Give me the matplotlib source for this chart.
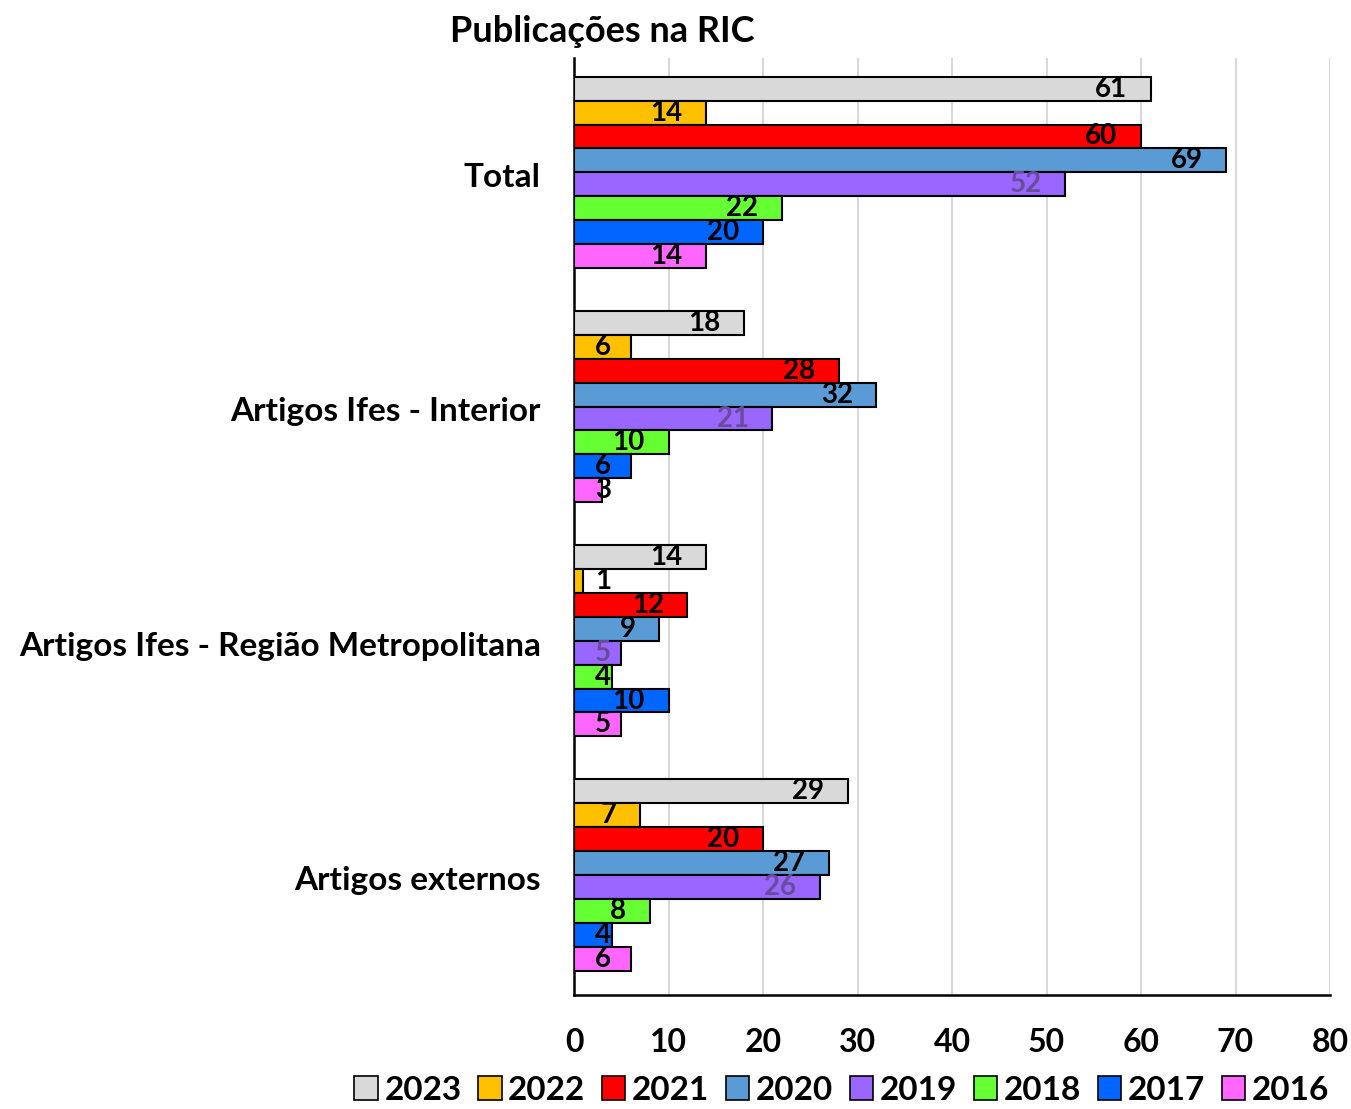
import numpy as np
import matplotlib
matplotlib.use("Agg")
import matplotlib.pyplot as plt
from matplotlib.patches import Patch

plt.rcParams['font.family'] = ['Lato', 'DejaVu Sans']
plt.rcParams['font.weight'] = 'bold'

categories = ['Total', 'Artigos Ifes - Interior', 'Artigos Ifes - Região Metropolitana', 'Artigos externos']
years = ['2023', '2022', '2021', '2020', '2019', '2018', '2017', '2016']
values = {
    '2023': [61, 18, 14, 29],
    '2022': [14, 6, 1, 7],
    '2021': [60, 28, 12, 20],
    '2020': [69, 32, 9, 27],
    '2019': [52, 21, 5, 26],
    '2018': [22, 10, 4, 8],
    '2017': [20, 6, 10, 4],
    '2016': [14, 3, 5, 6],
}
colors = ['#d9d9d9', '#ffc000', '#ff0000', '#5b9bd5', '#9966ff', '#66ff33', '#0066ff', '#ff66ff']
label_colors = ['black', 'black', 'black', 'black', '#6a4c9c', 'black', 'black', 'black']

fig = plt.figure(figsize=(13.51, 11.09), dpi=100)
ax = fig.add_axes([0.4249, 0.1028, 0.5596, 0.8449])

bar_h = 0.102
y = np.arange(len(categories))
for i, yr in enumerate(years):
    pos = y - 3.5 * bar_h + i * bar_h - 0.012
    ax.barh(pos, values[yr], height=bar_h, color=colors[i], edgecolor='black', linewidth=1.5, zorder=3)
    for p, v in zip(pos, values[yr]):
        ax.text(max(v - 2.5, 3.9), p, str(v), ha='right', va='center',
                fontsize=20, fontweight='bold', color=label_colors[i], zorder=4)

ax.set_xlim(0, 80)
ax.set_ylim(3.5, -0.5)
ax.set_xticks(range(0, 81, 10))
ax.set_yticks(y)
ax.set_yticklabels(categories, fontsize=24, fontweight='bold')
ax.tick_params(axis='x', labelsize=23, length=0, pad=24)
ax.tick_params(axis='y', length=0, pad=24)
ax.grid(axis='x', color='#d9d9d9', linewidth=1.5, zorder=0)
for s in ['top', 'right']:
    ax.spines[s].set_visible(False)
ax.spines['left'].set_linewidth(1.8)
ax.spines['bottom'].set_linewidth(1.8)

fig.text(0.4456, 0.972, 'Publicações na RIC', ha='center', va='center', fontsize=26, fontweight='bold')

handles = [Patch(facecolor=c, edgecolor='black', linewidth=1.2) for c in colors]
fig.legend(handles, years, loc='center', bbox_to_anchor=(0.623, 0.017), ncol=8, frameon=False,
           fontsize=24, handlelength=0.7, handleheight=0.7, handletextpad=0.2, columnspacing=0.5)

fig.savefig('out.png', dpi=100)
